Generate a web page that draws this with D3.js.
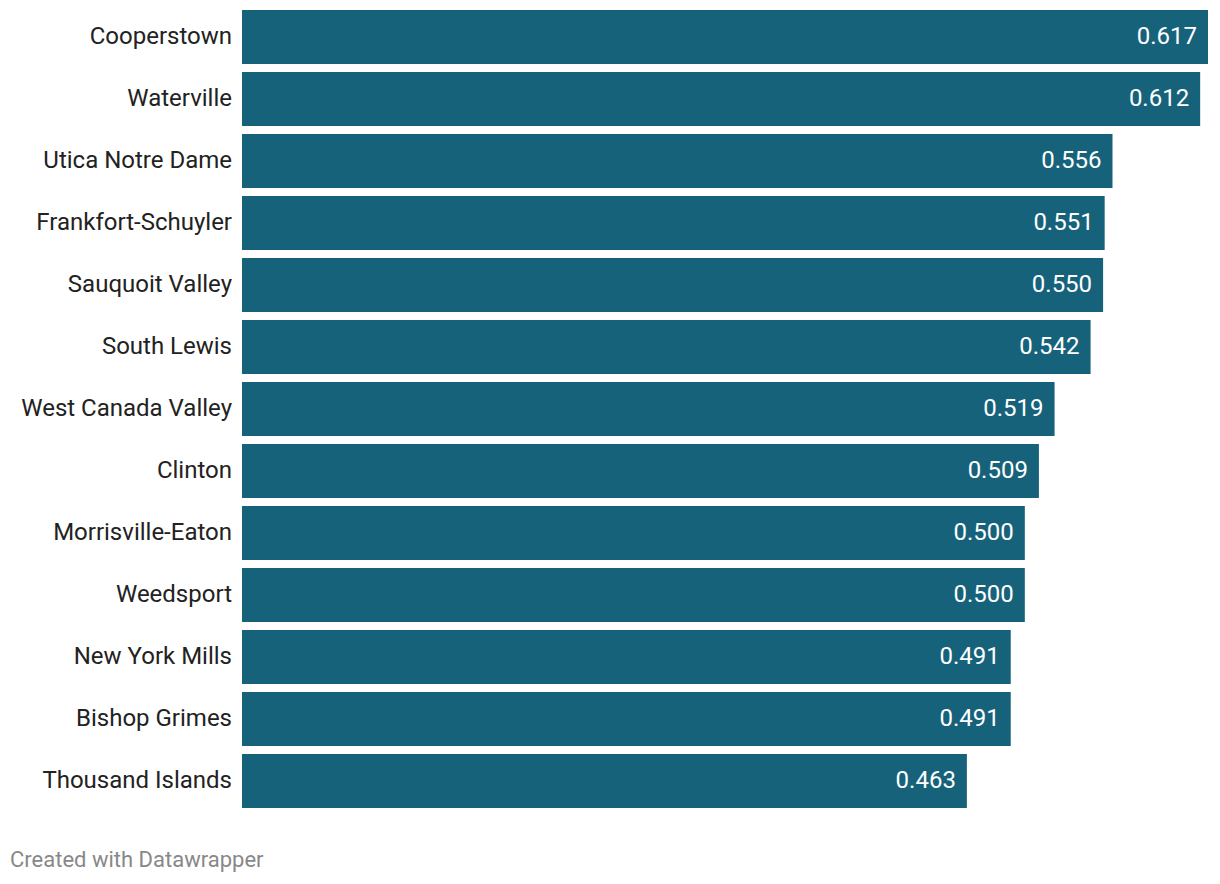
<!DOCTYPE html>
<html><head><meta charset="utf-8">
<script src="https://cdn.jsdelivr.net/npm/d3@7"></script>
<style>body{margin:0;background:#fff;font-family:Roboto,sans-serif;}</style>
</head><body>
<svg id="c" width="1220" height="884"></svg>
<script>
const categories = ["Cooperstown","Waterville","Utica Notre Dame","Frankfort-Schuyler","Sauquoit Valley","South Lewis","West Canada Valley","Clinton","Morrisville-Eaton","Weedsport","New York Mills","Bishop Grimes","Thousand Islands"];
const values = [0.617,0.612,0.556,0.551,0.550,0.542,0.519,0.509,0.500,0.500,0.491,0.491,0.463];
const footer = "Created with Datawrapper";

const svg = d3.select("#c");
const x = d3.scaleLinear().domain([0, 0.617]).range([242, 1208]);
const y = d3.scaleBand().domain(categories).range([10, 808]).paddingInner(8/62).paddingOuter(0);

const rows = svg.append("g").selectAll("g.row").data(categories.map((c,i)=>({c, v: values[i]}))).join("g");
rows.append("rect")
  .attr("x", x(0)).attr("y", d => y(d.c))
  .attr("width", d => x(d.v) - x(0)).attr("height", y.bandwidth())
  .attr("fill", "#17627b");
rows.append("text")
  .attr("x", x(0) - 10).attr("y", d => y(d.c) + y.bandwidth()/2)
  .attr("dy", "0.31em").attr("text-anchor", "end")
  .attr("font-size", 24).attr("fill", "#222")
  .text(d => d.c);
rows.append("text")
  .attr("x", d => x(d.v) - 11).attr("y", d => y(d.c) + y.bandwidth()/2)
  .attr("dy", "0.31em").attr("text-anchor", "end")
  .attr("font-size", 24).attr("fill", "#fff")
  .text(d => d3.format(".3f")(d.v));
svg.append("text").attr("x", 10).attr("y", 867)
  .attr("font-size", 22).attr("fill", "#888").text(footer);
</script>
</body></html>
